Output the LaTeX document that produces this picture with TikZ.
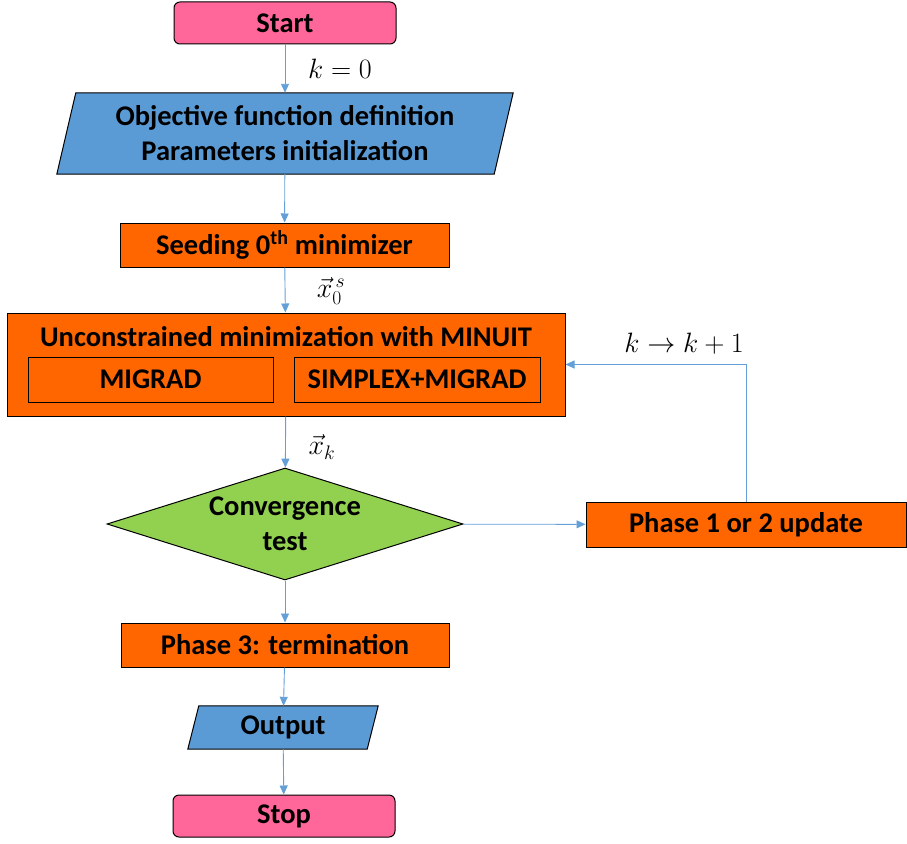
\RequirePackage{fix-cm}
\documentclass[tikz,border=0pt]{standalone}
\usepackage{amsmath}
\usepackage{fontspec}
\setmainfont{Carlito}
\usepackage{tikz}
\usetikzlibrary{arrows.meta,shapes.geometric,backgrounds}
\definecolor{termpink}{RGB}{255,102,153}
\definecolor{iblue}{RGB}{91,155,213}
\definecolor{porange}{RGB}{255,102,0}
\definecolor{dgreen}{RGB}{146,208,80}
\definecolor{flowblue}{RGB}{100,160,215}
\newcommand{\boxfont}{\bfseries\fontsize{28.5}{35}\selectfont}
\newcommand{\mathsize}{\fontsize{28}{32}\selectfont}

\tikzset{
  flow/.style={draw=flowblue, line width=0.9pt, -{Triangle[width=8pt,length=9pt]}},
  terminal/.style={draw, line width=1pt, rounded corners=6pt, fill=termpink,
    minimum width=222pt, minimum height=42pt, font=\boxfont},
  process/.style={draw, line width=1pt, fill=porange, inner sep=0pt,
    minimum height=44pt, font=\boxfont},
  iotext/.style={inner sep=0pt, align=center, font=\boxfont},
  iobox/.style={draw, line width=1pt, fill=iblue},
  decision/.style={diamond, draw, line width=1pt, fill=dgreen, inner sep=0pt,
    aspect=3.18, minimum width=356pt, minimum height=112pt, align=center, font=\boxfont},
  flowlabel/.style={inner sep=0pt, font=\mathsize}
}

\begin{document}
\begin{tikzpicture}[x=1pt,y=-1pt]
\useasboundingbox (0,0) rectangle (907,843);

% start
\node[terminal] (start) at (285,23) {Start};

% definitions (parallelogram)
\node[iotext, minimum width=437pt, minimum height=81pt] (def) at (285,133.5)
  {Objective function definition\\Parameters initialization};
\begin{scope}[on background layer]
\draw[iobox] ([xshift=9.5pt]def.north west) -- ([xshift=9.5pt]def.north east)
  -- ([xshift=-9.5pt]def.south east) -- ([xshift=-9.5pt]def.south west) -- cycle;
\end{scope}

% seeding
\node[process, minimum width=329pt] (seed) at (284.5,245) {Seeding 0\textsuperscript{th} minimizer};

% minuit
\node[process, minimum width=558pt, minimum height=103pt] (minuit) at (286,364.5) {};
\node[iotext] (minuittitle) at (286,337) {Unconstrained minimization with MINUIT};
\node[process, minimum width=245pt, minimum height=45pt] (migrad) at (150.5,379.5) {MIGRAD};
\node[process, minimum width=246pt, minimum height=45pt] (simplex) at (417,379.5) {SIMPLEX+MIGRAD};

% convergence test
\node[decision] (conv) at (285,524) {Convergence\\test};

% update
\node[process, minimum width=320pt, minimum height=45pt] (upd) at (746,524.5) {Phase 1 or 2 update};

% termination
\node[process, minimum width=328pt] (term) at (285,645) {Phase 3: termination};

% output (parallelogram)
\node[iotext, minimum width=179pt, minimum height=43pt] (out) at (283,727.5) {Output};
\begin{scope}[on background layer]
\draw[iobox] ([xshift=5.5pt]out.north west) -- ([xshift=5.5pt]out.north east)
  -- ([xshift=-5.5pt]out.south east) -- ([xshift=-5.5pt]out.south west) -- cycle;
\end{scope}

% stop
\node[terminal] (stop) at (284,816) {Stop};

% connectors
\draw[flow] (start) -- (def);
\draw[flow] (def) -- (seed);
\draw[flow] (seed) -- (minuit);
\draw[flow] (minuit) -- (conv);
\draw[flow] (conv) -- (upd);
\draw[flow] (upd.north) |- (minuit.east);
\draw[flow] (conv) -- (term);
\draw[flow] (term) -- (out);
\draw[flow] (out) -- (stop);

% labels
\node[flowlabel] (kzero) at (340,69) {$k=0$};
\node[flowlabel] (xseed) at (331,291) {$\vec{x}_0^{\,s}$};
\node[flowlabel] (xk) at (322,447) {$\vec{x}_k$};
\node[flowlabel] (knext) at (684,344) {$k\rightarrow k+1$};

\end{tikzpicture}
\end{document}
